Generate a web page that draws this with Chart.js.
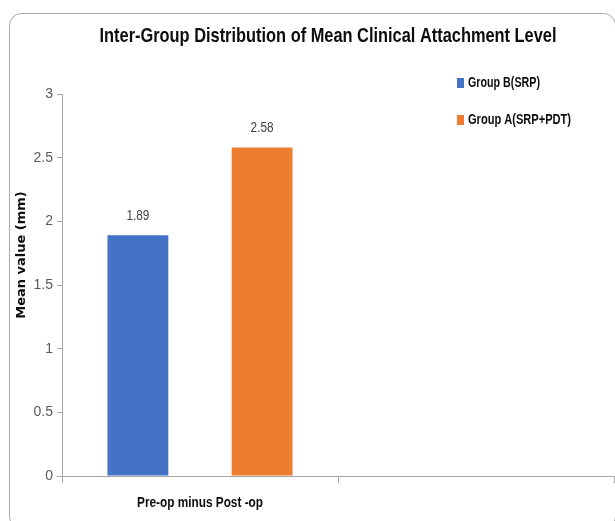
<!DOCTYPE html>
<html>
<head>
<meta charset="utf-8">
<style>
  html, body { margin: 0; padding: 0; background: #ffffff; overflow: hidden; }
  #wrap { width: 615px; height: 521px; position: relative; }
  canvas { display: block; }
</style>
<script src="https://cdn.jsdelivr.net/npm/chart.js@4.4.1/dist/chart.umd.min.js"></script>
</head>
<body>
<div id="wrap"><canvas id="chart" width="615" height="521"></canvas></div>
<script>
// Chart content
const chartTitle = 'Inter-Group Distribution of Mean Clinical Attachment Level';
const yAxisTitle = 'Mean value (mm)';
const categories = ['Pre-op minus Post -op', ''];
const seriesNames = ['Group B(SRP)', 'Group A(SRP+PDT)'];
const groupB = [1.89, null];
const groupA = [2.58, null];
const yTicks = [0, 0.5, 1, 1.5, 2, 2.5, 3];

const BLUE = '#4472C4';
const ORANGE = '#ED7D31';
const AXIS = '#a6a6a6';
const SANS = "'Liberation Sans', Arial, sans-serif";

// Draws text squeezed horizontally into a given width (condensed look)
function fitText(ctx, text, x, y, font, width, align) {
  ctx.save();
  ctx.font = font;
  ctx.textBaseline = 'middle';
  ctx.textAlign = 'left';
  const w = ctx.measureText(text).width;
  const sx = width / w;
  let left = x;
  if (align === 'center') left = x - width / 2;
  ctx.translate(left, y);
  ctx.scale(sx, 1);
  ctx.fillText(text, 0, 0);
  ctx.restore();
}

// Frame, title, legend, axis titles and value labels
const decorations = {
  id: 'decorations',
  beforeDraw(chart) {
    const ctx = chart.ctx;
    ctx.save();
    ctx.strokeStyle = '#a9a9a9';
    ctx.lineWidth = 1;
    ctx.beginPath();
    ctx.roundRect(9.5, 13.5, 606, 515, 12);
    ctx.stroke();
    ctx.restore();
  },
  afterDraw(chart) {
    const ctx = chart.ctx;
    ctx.save();

    // title
    ctx.fillStyle = '#0d0d0d';
    fitText(ctx, chartTitle, 328, 36, 'bold 21px ' + SANS, 457, 'center');

    // legend
    const legendY = [83, 120];
    const legendW = [72, 103];
    chart.data.datasets.forEach((ds, i) => {
      ctx.fillStyle = ds.backgroundColor;
      ctx.fillRect(457, legendY[i] - 5, 7, 10);
      ctx.fillStyle = '#0d0d0d';
      fitText(ctx, ds.label, 468, legendY[i], 'bold 14px ' + SANS, legendW[i], 'left');
    });

    // y axis title
    ctx.save();
    ctx.translate(22, 255);
    ctx.rotate(-Math.PI / 2);
    ctx.font = "bold 13px 'DejaVu Sans', sans-serif";
    ctx.textAlign = 'center';
    ctx.textBaseline = 'middle';
    ctx.fillStyle = '#0d0d0d';
    ctx.fillText(yAxisTitle, 0, 0);
    ctx.restore();

    // category label under the x axis
    const xs = chart.scales.x;
    ctx.fillStyle = '#0d0d0d';
    categories.forEach((c, i) => {
      if (!c) return;
      fitText(ctx, c, xs.getPixelForValue(i), 503, 'bold 14px ' + SANS, 126, 'center');
    });

    // value labels above the bars
    ctx.fillStyle = '#404040';
    chart.data.datasets.forEach((ds, i) => {
      const meta = chart.getDatasetMeta(i);
      meta.data.forEach((bar, j) => {
        const v = ds.data[j];
        if (v === null || v === undefined) return;
        fitText(ctx, v.toFixed(2), bar.x, bar.y - 19, '14px ' + SANS, 23, 'center');
      });
    });

    ctx.restore();
  }
};

new Chart(document.getElementById('chart'), {
  type: 'bar',
  data: {
    labels: categories,
    datasets: [
      { label: seriesNames[0], data: groupB, backgroundColor: BLUE },
      { label: seriesNames[1], data: groupA, backgroundColor: ORANGE }
    ]
  },
  options: {
    responsive: false,
    animation: false,
    devicePixelRatio: 1,
    layout: { padding: { top: 94, left: 0, right: 1, bottom: 0 } },
    datasets: { bar: { categoryPercentage: 0.9, barPercentage: 0.49 } },
    plugins: {
      legend: { display: false },
      title: { display: false },
      tooltip: { enabled: false }
    },
    scales: {
      x: {
        offset: true,
        grid: { display: true, drawOnChartArea: false, offset: true, tickLength: 7, color: AXIS },
        border: { display: true, color: AXIS },
        ticks: { display: false },
        afterFit(scale) { scale.height = 45; }
      },
      y: {
        min: 0,
        max: 3,
        afterBuildTicks(scale) { scale.ticks = yTicks.map(v => ({ value: v })); },
        grid: { display: true, drawOnChartArea: false, tickLength: 5, color: AXIS },
        border: { display: true, color: AXIS },
        ticks: {
          padding: 4,
          color: '#595959',
          font: { family: SANS, size: 14 },
          callback: v => String(v)
        },
        afterFit(scale) { scale.width = 62; }
      }
    }
  },
  plugins: [decorations]
});
</script>
</body>
</html>
